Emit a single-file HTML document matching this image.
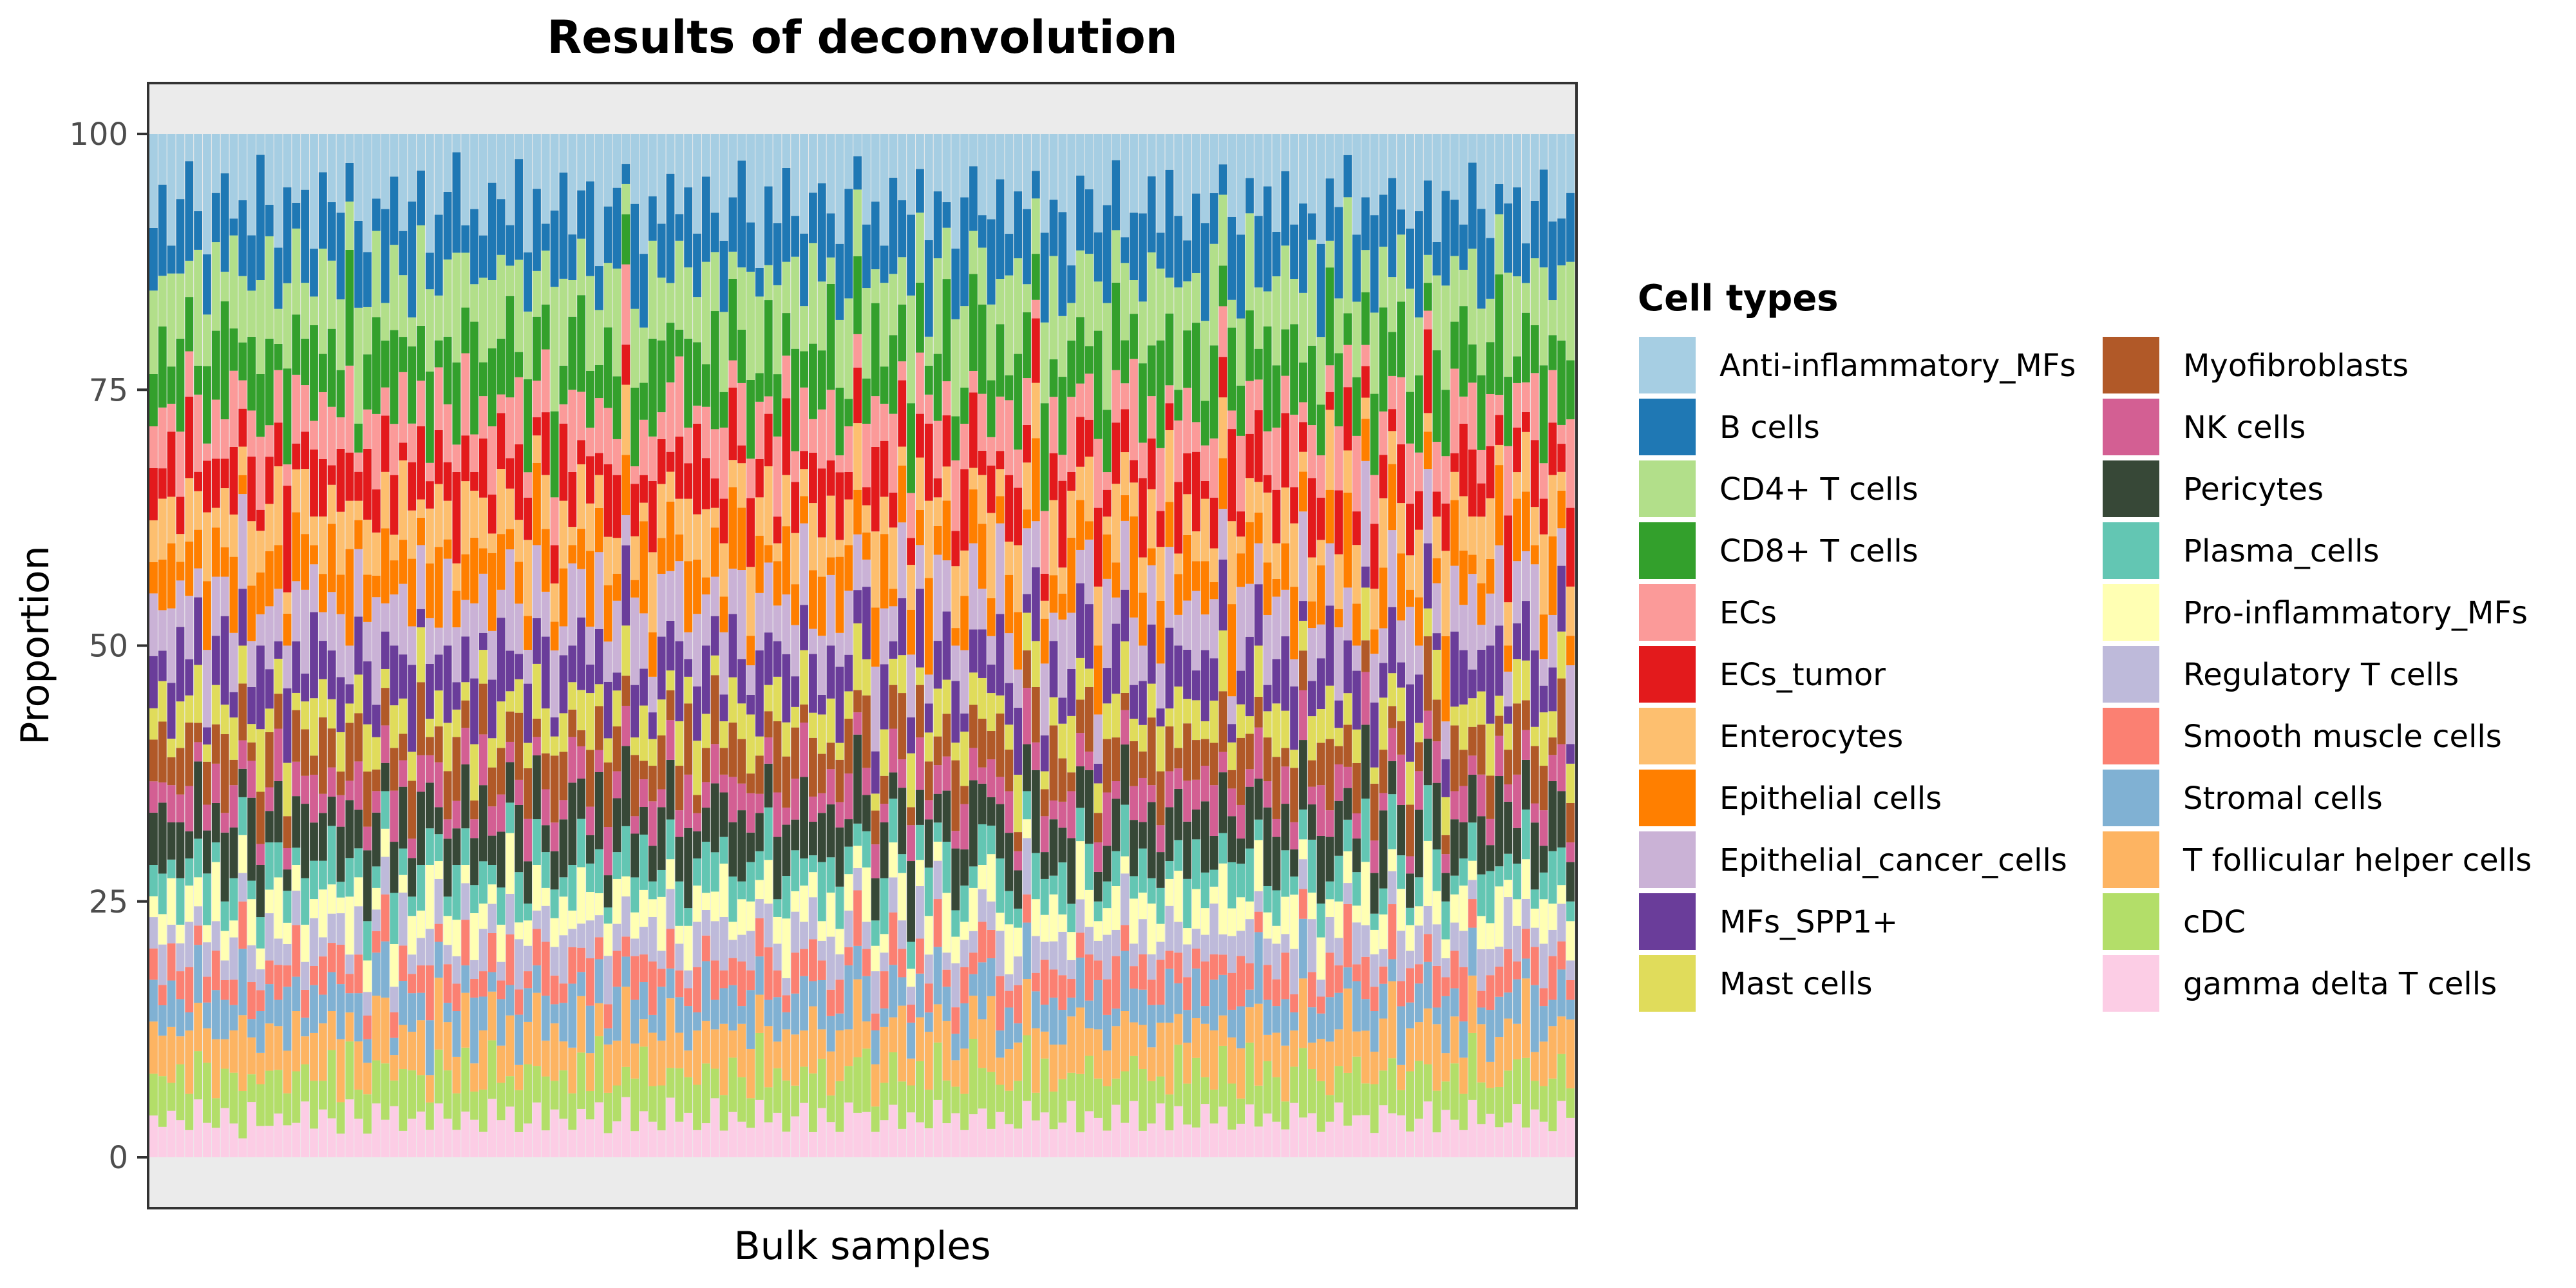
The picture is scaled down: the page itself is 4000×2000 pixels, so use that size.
<!DOCTYPE html>
<html><head><meta charset="utf-8">
<style>
html,body{margin:0;padding:0;background:#fff;}
body{width:4000px;height:2000px;overflow:hidden;position:relative;font-family:"Liberation Sans","DejaVu Sans",sans-serif;}
svg{position:absolute;left:0;top:0;}
</style></head>
<body>
<svg id="chart" width="4000" height="2000" xmlns="http://www.w3.org/2000/svg">
<text x="1339" y="82" text-anchor="middle" font-family="DejaVu Sans, Liberation Sans, sans-serif" font-weight="bold" font-size="70" fill="#000">Results of deconvolution</text>
<rect x="230" y="129" width="2218" height="1747" fill="#EBEBEB"/>
<g id="bars"></g>
<rect x="230" y="129" width="2218" height="1747" fill="none" stroke="#333" stroke-width="4"/>
<g id="yaxis"></g>
<text transform="translate(75,1002) rotate(-90)" text-anchor="middle" font-family="DejaVu Sans, Liberation Sans, sans-serif" font-size="60" fill="#000">Proportion</text>
<text x="1339" y="1975" text-anchor="middle" font-family="DejaVu Sans, Liberation Sans, sans-serif" font-size="60" fill="#000" transform="translate(0,-20)">Bulk samples</text>
<text x="2543" y="482" font-family="DejaVu Sans, Liberation Sans, sans-serif" font-weight="bold" font-size="56" fill="#000">Cell types</text>
<g id="legend"></g>
</svg>
<script>
const cellTypes=["Anti-inflammatory_MFs","B cells","CD4+ T cells","CD8+ T cells","ECs","ECs_tumor","Enterocytes","Epithelial cells","Epithelial_cancer_cells","MFs_SPP1+","Mast cells","Myofibroblasts","NK cells","Pericytes","Plasma_cells","Pro-inflammatory_MFs","Regulatory T cells","Smooth muscle cells","Stromal cells","T follicular helper cells","cDC","gamma delta T cells"];
const yTicks=[0,25,50,75,100];
const antiMF=[9,5,12,7,3,8,14,6,4,10,7,11,2,9,13,5,8,6,12,4,7,10,3,9,15,6,8,5,11,7,4,13,9,6,2,10,8,12,5,7,9,3,14,6,10,8,4,11,7,5,12,9,6,3,8,13,7,10,4,9,6,11,5,8,12,7,3,9,14,6,10,4,8,11,7,5,9,13,6,2,10,8,12,5,7,9,4,11,6,8,13,7,3,10,9,5,12,6,8,4,11,7,9,14,5,6,10,8,3,12,7,9,5,11,4,8,13,6,10,7,3,9,12,5,8,6,11,4,10,7,9,13,5,8,2,12,6,10,7,4,9,11,8,5,13,6,7,10,3,9,12,5,8,6,11,7,4,10,9,6];
const bCells=[6,9,3,8,11,4,7,5,10,2,8,6,12,4,7,9,3,10,5,8,6,11,4,9,7,3,10,8,5,12,6,4,9,7,11,3,8,5,10,6,4,12,7,9,3,8,11,5,6,10,4,7,9,2,12,8,5,6,11,3,9,7,10,4,8,6,12,5,3,9,7,11,4,8,6,10,5,9,12,3,7,8,4,11,6,9,5,10,7,3,8,12,6,4,9,11,5,7,8,3,10,6,12,4,9,7,5,11,8,3,6,10,9,4,12,7,5,8,11,6,3,9,10,4,7,12,5,8,6,9,3,11,7,10,4,8,5,12,6,9,3,7,11,8,4,10,6,5,9,12,7,3,8,10,4,6,11,9,5,7];
const cd4=[8,5,10,7,4,12,6,9,3,11,7,5,9,13,4,8,10,6,3,11,7,9,5,12,6,8,4,10,7,3,11,9,5,8,12,6,4,10,7,9,3,11,8,5,6,13,9,4,7,10,5,8,12,3,9,6,11,7,4,10,8,5,12,6,9,3,7,11,8,4,10,6,9,5,12,7,3,8,11,6,10,4,9,7,5,12,8,3,10,6,11,9,4,7,8,5,12,10,3,6,9,11,7,4,8,10,5,12,6,9,3,7,11,8,4,10,6,5,9,12,7,3,8,11,6,4,10,9,5,7,12,8,3,6,11,9,4,10,7,5,8,12,6,3,9,11,7,4,10,8,5,6,12,9,3,7,11,4,8,10];
const cd8=[5,8,4,10,6,3,9,7,12,5,4,8,6,11,3,9,7,5,10,4,8,6,12,3,7,9,5,11,4,8,6,10,3,7,9,5,12,4,8,6,10,3,11,7,5,9,4,8,12,6,3,10,7,5,9,4,11,8,6,3,10,7,5,12,4,9,6,8,3,11,7,5,10,4,9,6,12,8,3,7,5,11,4,9,6,10,8,3,7,12,5,4,9,11,6,8,3,10,7,5,12,4,9,6,8,3,11,7,10,5,4,9,6,12,8,3,7,10,5,11,4,9,6,8,3,12,7,5,10,4,9,6,11,8,3,7,5,10,12,4,9,6,8,3,11,7,5,10,4,9,6,12,8,3,7,5,11,4,9,6];
const ecs=[4,6,3,7,5,8,2,6,4,9,3,5,7,4,6,2,8,5,3,7,6,4,9,2,5,7,3,6,8,4,5,2,7,6,3,9,4,5,7,2,6,8,3,4,7,5,2,9,6,3,5,7,4,8,2,6,5,3,7,9,4,2,6,5,8,3,7,4,6,2,9,5,3,7,4,6,8,2,5,3,7,6,4,9,2,5,7,3,6,4,8,5,2,7,3,6,9,4,5,2,7,6,3,8,4,5,7,2,6,3,9,4,5,7,2,6,8,3,4,7,5,2,9,6,3,5,7,4,8,2,6,5,3,7,4,9,2,6,5,3,8,7,4,2,6,5,9,3,7,4,6,2,8,5,3,7,4,6,2,9];
const ecsTumor=[5,3,7,4,9,2,6,5,3,8,4,7,2,6,5,10,3,4,7,6,2,8,5,3,9,4,6,7,2,5,8,3,6,4,10,5,2,7,4,6,3,9,5,2,7,4,8,6,3,5,2,9,7,4,6,3,8,5,2,7,4,10,6,3,5,8,2,7,4,6,3,9,5,2,6,7,4,8,3,5,2,10,6,4,7,3,5,8,2,6,4,9,7,3,5,2,8,6,4,7,3,5,10,2,6,4,8,3,7,5,2,9,6,4,3,7,5,8,2,6,4,10,3,5,7,2,6,8,4,3,9,5,2,7,6,4,3,8,5,2,7,6,4,9,3,5,2,8,7,4,6,3,10,5,2,7,4,6,3,8];
const enterocytes=[4,6,5,3,7,4,8,2,6,5,3,7,4,6,9,2,5,7,3,6,4,8,5,2,7,4,6,3,9,5,2,6,7,4,3,8,5,6,2,7,4,5,9,3,6,4,7,2,8,5,3,6,4,7,5,2,9,6,3,4,7,5,8,2,6,3,5,7,4,9,2,6,5,3,8,4,7,2,5,6,3,9,4,7,2,5,6,8,3,4,7,5,2,6,9,3,4,7,5,6,2,8,3,5,4,7,6,2,9,5,3,4,7,6,8,2,5,3,7,4,6,9,2,5,3,8,4,6,7,2,5,3,9,6,4,7,2,5,8,3,6,4,7,2,5,9,3,6,4,8,7,2,5,3,6,4,9,7,2,5];
const epithelial=[3,5,7,2,6,4,8,5,3,9,2,6,4,7,5,3,8,6,2,4,7,5,10,3,6,2,8,4,5,7,3,6,9,2,4,5,7,3,8,6,2,5,4,9,7,3,6,2,5,8,4,7,3,6,2,10,5,4,7,3,8,6,2,5,4,9,7,3,6,2,5,8,4,3,7,6,2,9,5,4,3,7,8,2,6,5,4,10,3,7,2,6,5,8,4,3,7,6,2,9,5,4,3,8,6,2,7,5,4,3,9,6,2,7,5,4,8,3,6,2,5,10,4,7,3,6,2,5,8,4,3,7,6,2,9,5,4,3,7,6,8,2,5,4,3,9,7,6,2,5,4,8,3,7,6,2,5,9,4,3];
const epiCancer=[6,4,8,5,7,3,9,6,4,7,10,5,3,8,6,4,7,9,5,3,6,8,4,7,5,10,3,6,8,4,7,5,3,9,6,4,8,7,5,3,10,6,4,8,5,7,3,9,6,4,7,5,8,3,10,6,4,7,5,9,3,8,6,4,7,5,10,3,6,8,4,7,5,9,3,6,8,4,7,5,3,10,6,4,8,7,5,3,9,6,4,7,8,5,3,10,6,4,7,5,8,3,9,6,4,7,5,10,3,8,6,4,7,5,9,3,6,8,4,7,5,3,10,6,4,8,7,5,3,9,6,4,7,8,5,3,10,6,4,7,5,9,3,8,6,4,7,5,10,3,6,8,4,7,5,9,3,6,4,8];
const mfsSpp1=[5,3,6,8,4,7,2,5,9,3,6,4,8,5,2,7,6,3,9,4,5,7,2,6,8,3,4,7,5,9,2,6,4,8,3,5,7,2,6,9,4,3,7,5,8,2,6,4,9,3,5,7,2,8,6,4,3,7,5,9,2,6,8,4,3,7,5,2,9,6,4,8,3,5,7,2,6,9,4,3,8,5,7,2,6,4,9,3,5,8,7,2,4,6,3,9,5,7,2,8,4,6,3,5,9,7,2,4,8,6,3,5,7,2,9,4,6,3,8,5,7,2,4,9,6,3,5,8,7,2,4,6,9,3,5,7,2,8,4,6,3,9,5,7,2,4,8,6,3,5,9,7,2,4,6,8,3,5,7,2];
const mast=[3,4,2,5,3,6,2,4,3,5,4,2,6,3,4,5,2,3,6,4,3,5,2,4,6,3,2,5,4,3,6,2,4,5,3,2,6,4,3,5,2,4,3,6,5,2,4,3,5,6,2,3,4,5,2,6,3,4,2,5,3,6,4,2,3,5,4,6,2,3,5,4,2,6,3,4,5,2,3,6,4,2,5,3,4,6,2,3,5,4,2,6,3,5,4,2,3,6,4,5,2,3,4,6,5,2,3,4,5,6,2,3,4,5,2,6,3,4,2,5,6,3,4,2,5,3,6,4,2,3,5,4,6,2,3,4,5,2,6,3,4,5,2,3,6,4,2,5,3,4,6,2,3,5,4,2,6,3,5,4];
const myofib=[4,6,3,5,7,2,5,4,8,3,6,2,5,7,4,3,6,5,2,8,4,3,6,5,7,2,4,5,3,6,8,2,4,5,7,3,2,6,4,5,3,8,6,2,4,7,5,3,2,6,4,8,5,3,7,2,4,6,3,5,8,2,4,7,3,6,5,2,4,3,8,6,5,2,7,4,3,5,6,2,8,4,3,5,7,2,6,4,3,5,8,2,4,6,3,7,5,2,4,6,3,8,5,2,4,7,3,6,5,2,4,3,8,6,5,2,7,4,3,5,6,2,8,4,3,5,7,2,6,4,3,5,8,2,4,6,3,7,5,2,4,6,3,8,5,2,7,4,3,6,5,2,4,8,3,6,5,2,7,4];
const nkCells=[3,2,4,3,5,2,3,4,2,5,3,4,2,3,6,2,4,3,5,2,3,4,2,5,3,2,4,6,3,2,4,3,5,2,3,4,2,6,3,4,2,3,5,2,4,3,2,5,4,3,2,6,3,4,2,3,5,2,4,3,6,2,3,4,2,5,3,4,2,3,5,2,4,6,3,2,4,3,5,2,3,4,2,5,3,4,6,2,3,4,2,5,3,2,4,3,5,2,6,3,4,2,3,5,4,2,3,6,2,4,3,5,2,3,4,2,5,3,4,6,2,3,4,2,5,3,2,4,3,5,2,6,3,4,2,3,5,4,2,3,6,2,4,3,5,2,3,4,2,5,3,4,2,6,3,2,4,3,5,2];
const pericytes=[5,7,4,6,3,8,5,4,7,6,3,9,5,4,7,2,6,8,4,5,3,7,6,4,9,5,3,6,7,4,8,5,3,6,4,7,5,9,3,6,4,8,5,7,3,4,6,9,5,3,7,4,6,8,5,3,4,7,6,5,9,3,4,7,5,6,8,3,4,5,7,6,3,9,4,5,6,7,3,8,4,5,6,3,7,9,4,5,3,6,7,4,8,5,3,6,7,4,5,9,3,6,4,7,5,8,3,4,6,7,5,3,9,4,6,5,7,3,8,4,6,5,3,7,4,9,6,5,3,7,4,8,5,6,3,4,7,5,9,3,6,4,7,5,8,3,6,4,5,7,3,9,6,4,5,7,3,8,6,4];
const plasma=[3,4,2,5,3,4,6,2,3,5,4,2,3,6,4,3,2,5,4,3,6,2,4,3,5,2,4,6,3,2,5,4,3,2,6,4,3,5,2,4,3,6,2,5,4,3,2,5,6,3,4,2,3,5,4,6,2,3,4,5,2,3,6,4,3,5,2,4,3,6,2,5,4,3,2,6,4,5,3,2,4,3,6,5,2,3,4,5,2,6,3,4,2,5,3,6,4,2,3,5,4,2,6,3,4,5,2,3,4,6,2,5,3,4,2,3,6,5,4,2,3,5,4,6,2,3,4,5,2,3,6,4,2,5,3,4,6,2,3,5,4,2,3,6,5,4,2,3,4,5,6,2,3,4,5,2,3,6,4,2];
const proInflam=[2,3,5,2,4,3,2,6,3,2,4,5,2,3,7,2,3,4,2,5,3,2,6,3,4,2,3,5,2,4,3,7,2,3,4,2,5,3,2,4,6,2,3,5,2,3,4,2,7,3,2,4,5,2,3,4,2,6,3,2,5,4,2,3,6,2,4,3,2,5,3,7,2,4,3,2,5,3,4,2,6,3,2,4,5,2,3,4,2,7,3,2,4,3,5,2,6,3,2,4,3,5,2,3,7,4,2,3,5,2,4,3,6,2,3,5,2,4,3,2,7,3,4,2,5,3,2,4,6,2,3,5,2,4,3,2,6,3,4,2,5,3,2,7,4,2,3,5,2,4,3,6,2,3,4,2,5,3,2,4];
const treg=[3,4,2,3,5,2,4,3,2,5,3,4,2,6,3,2,4,3,5,2,3,4,2,5,3,2,4,3,6,2,3,4,5,2,3,4,2,5,3,2,4,6,3,2,4,3,5,2,3,4,2,6,3,4,2,3,5,2,4,3,2,5,3,4,6,2,3,4,2,5,3,2,4,3,5,2,6,3,4,2,3,5,2,4,3,2,6,3,4,2,5,3,2,4,3,5,2,3,6,4,2,3,5,2,4,3,2,5,3,6,2,4,3,2,5,3,4,2,3,6,2,4,3,5,2,3,4,2,5,3,6,2,4,3,2,5,3,4,2,3,6,2,4,3,5,2,3,4,2,5,3,2,6,4,3,2,5,3,4,2];
const smoothMuscle=[3,2,4,3,5,2,3,4,2,3,5,4,2,3,4,2,6,3,2,4,3,5,2,4,3,2,5,3,4,2,3,6,2,4,3,5,2,3,4,2,5,3,2,4,6,3,2,4,3,5,2,3,4,2,5,3,6,2,4,3,2,5,3,4,2,3,5,2,4,6,3,2,4,3,5,2,3,4,2,5,3,2,4,6,3,2,4,3,5,2,3,4,2,5,3,6,2,4,3,2,5,3,4,2,3,5,2,4,6,3,2,4,3,5,2,3,4,2,5,3,2,4,6,3,2,4,3,5,2,3,4,2,5,3,6,2,4,3,2,5,3,4,2,3,5,2,4,6,3,2,4,3,5,2,3,4,2,5,3,2];
const stromal=[4,3,5,4,2,6,3,5,4,3,7,2,4,5,3,6,4,2,5,3,4,7,2,5,3,4,6,2,5,4,3,6,4,2,5,3,7,4,2,5,3,6,4,3,5,2,4,7,3,5,4,2,6,3,5,4,2,6,3,4,5,2,7,3,4,5,2,6,4,3,5,2,4,6,3,5,4,2,7,3,5,4,2,6,3,4,5,2,6,4,3,5,2,7,4,3,5,2,6,4,3,5,4,2,6,3,5,4,2,7,3,4,5,2,6,3,4,5,2,6,4,3,5,2,7,4,3,5,2,6,4,3,5,4,2,6,3,5,4,2,7,3,4,5,2,6,3,4,5,2,6,4,3,5,2,7,4,3,5,2];
const tfh=[5,4,6,3,7,5,4,6,3,5,8,4,3,6,5,4,7,3,5,6,4,8,3,5,4,6,7,3,5,4,6,3,8,5,4,6,3,7,5,4,6,3,5,8,4,6,3,5,7,4,3,6,5,8,4,3,6,5,7,4,3,6,5,4,8,3,6,5,4,7,3,6,5,4,8,3,5,6,4,7,3,5,6,4,8,3,5,6,4,7,3,5,4,6,8,3,5,4,6,7,3,5,4,6,8,3,5,4,6,7,3,5,4,6,8,3,5,4,6,7,3,5,6,4,8,3,5,6,4,7,3,5,6,4,8,3,5,4,6,7,3,5,4,6,8,3,5,4,6,7,3,5,6,4,8,3,5,6,4,7];
const cdc=[4,5,3,6,4,5,7,3,4,6,5,3,4,7,5,3,6,4,5,3,7,4,6,3,5,4,6,3,7,5,4,3,6,5,4,7,3,5,6,4,3,5,7,4,6,3,5,4,7,3,6,5,4,3,6,7,4,5,3,6,4,5,7,3,4,6,5,3,7,4,5,6,3,4,7,5,3,6,4,5,7,3,4,6,5,3,7,4,6,5,3,4,7,5,6,3,4,5,7,3,6,4,5,3,7,6,4,5,3,6,4,7,5,3,4,6,5,7,3,4,6,5,3,7,4,6,5,3,4,7,5,6,3,4,5,7,3,6,4,5,3,7,6,4,5,3,6,4,7,5,3,4,6,5,7,3,4,6,5,3];
const gammaDelta=[4,3,5,4,3,6,4,3,5,4,2,6,3,4,5,3,4,6,3,5,4,3,6,4,3,5,4,6,3,4,5,3,6,4,3,5,4,3,6,4,5,3,4,6,3,5,4,3,6,4,5,3,4,6,3,5,4,3,6,4,5,3,4,6,3,5,4,3,6,4,5,3,4,6,3,5,4,3,6,4,5,3,4,6,3,5,4,3,6,4,5,3,4,6,3,5,4,3,6,4,5,3,4,6,3,5,4,3,6,4,5,3,4,6,3,5,4,3,6,4,5,3,4,6,3,5,4,3,6,4,5,3,4,6,3,5,4,3,6,4,5,3,4,6,3,5,4,3,6,4,5,3,4,6,3,5,4,3,6,4];
const series=[antiMF,bCells,cd4,cd8,ecs,ecsTumor,enterocytes,epithelial,epiCancer,mfsSpp1,mast,myofib,nkCells,pericytes,plasma,proInflam,treg,smoothMuscle,stromal,tfh,cdc,gammaDelta];
const colors=["#A6CEE3","#1F78B4","#B2DF8A","#33A02C","#FB9A99","#E31A1C","#FDBF6F","#FF7F00","#CAB2D6","#6A3D9A","#E0DC5B","#B15928","#D35F93","#374837","#63C6B3","#FFFFB3","#BEBADA","#FB8072","#80B1D3","#FDB462","#B3DE69","#FCCDE5"];

const NS="http://www.w3.org/2000/svg";
const PL=230,PR=2448,Y0=1797,Y100=208;
const yScale=v=>Y0+(Y100-Y0)*v/100;
const nS=antiMF.length;
const step=(PR-PL-4)/nS;
const xScale=i=>PL+2+i*step;
const bars=document.getElementById('bars');
for(let i=0;i<nS;i++){
  let tot=0;for(const s of series)tot+=s[i];
  let cum=0;
  for(let k=series.length-1;k>=0;k--){
    const v=series[k][i]/tot*100;
    const r=document.createElementNS(NS,'rect');
    r.setAttribute('x',xScale(i));
    r.setAttribute('width',step-1);
    r.setAttribute('y',yScale(cum+v));
    r.setAttribute('height',yScale(cum)-yScale(cum+v));
    r.setAttribute('fill',colors[k]);
    
    
    bars.appendChild(r);
    cum+=v;
  }
}
const ya=document.getElementById('yaxis');
for(const t of yTicks){
  const y=yScale(t);
  const l=document.createElementNS(NS,'line');
  l.setAttribute('x1',213);l.setAttribute('x2',230);l.setAttribute('y1',y);l.setAttribute('y2',y);
  l.setAttribute('stroke','#333');l.setAttribute('stroke-width','4');
  
  
  ya.appendChild(l);
  const tx=document.createElementNS(NS,'text');
  tx.setAttribute('x',199);tx.setAttribute('y',y+17);
  tx.setAttribute('text-anchor','end');tx.setAttribute('font-size','48');tx.setAttribute('fill','#4D4D4D');
  tx.setAttribute('font-family','DejaVu Sans, Liberation Sans, sans-serif');
  tx.textContent=t;
  
  
  ya.appendChild(tx);
}
const lg=document.getElementById('legend');
cellTypes.forEach((name,k)=>{
  const col=k<11?0:1,row=k%11;
  const kx=col?3265:2545,ky=523+row*96;
  const g=document.createElementNS(NS,'g');
  
  
  const r=document.createElementNS(NS,'rect');
  r.setAttribute('x',kx);r.setAttribute('y',ky);r.setAttribute('width',88);r.setAttribute('height',88);
  r.setAttribute('fill',colors[k]);
  
  
  g.appendChild(r);
  const t=document.createElementNS(NS,'text');
  t.setAttribute('x',kx+125);t.setAttribute('y',ky+61);
  t.setAttribute('font-size','48');t.setAttribute('fill','#000');
  t.setAttribute('font-family','DejaVu Sans, Liberation Sans, sans-serif');
  t.textContent=name;
  
  
  g.appendChild(t);
  lg.appendChild(g);
});
</script>
</body></html>
